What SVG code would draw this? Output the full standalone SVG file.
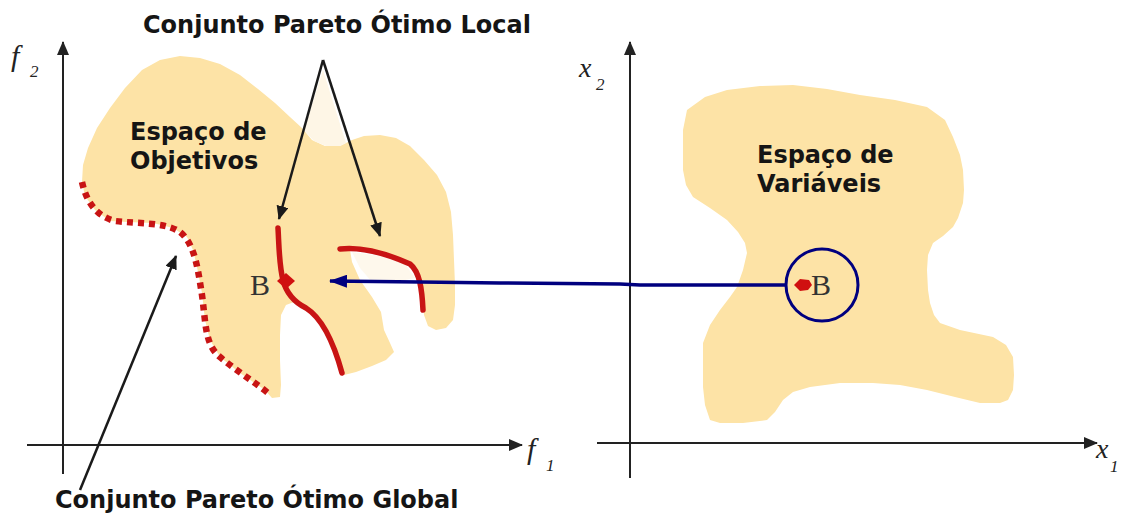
<svg xmlns="http://www.w3.org/2000/svg" width="1125" height="518" viewBox="0 0 1125 518">
<style>
.blob{fill:#FDE3A6;stroke:none}
.lbl{font-family:"DejaVu Sans",sans-serif;font-weight:bold;font-size:24px;fill:#151515}
.ax{stroke:#222;stroke-width:2;fill:none}
.var{font-family:"Liberation Serif",serif;font-style:italic;fill:#222}
.blk{stroke:#1a1a1a;stroke-width:2.5;fill:none}
.red{stroke:#C81414;stroke-width:5.5;fill:none;stroke-linecap:round;stroke-linejoin:round}
.B{font-family:"Liberation Serif",serif;font-size:30px;fill:#333}
</style>
<defs>
<marker id="ah" markerUnits="userSpaceOnUse" markerWidth="14" markerHeight="12" refX="13" refY="6" orient="auto"><path d="M0,0 L14,6 L0,12 z" fill="#1a1a1a"/></marker>
<marker id="axh" markerUnits="userSpaceOnUse" markerWidth="14" markerHeight="12" refX="13" refY="6" orient="auto"><path d="M0,0 L14,6 L0,12 z" fill="#222"/></marker>
<marker id="bh" markerUnits="userSpaceOnUse" markerWidth="18" markerHeight="13" refX="17" refY="6.5" orient="auto"><path d="M0,0 L18,6.5 L0,13 z" fill="#00007F"/></marker>
</defs>
<rect width="1125" height="518" fill="#fff"/>

<g id="objective-space">
<polygon class="blob" points="82,182 83,165 88,148 97,128 110,108 125,88 142,70 160,60 180,56 200,58 220,64 240,75 258,89 275,103 290,117 302,128 312,140 325,146 340,146 352,140 364,136 380,135 396,138 410,146 424,160 437,175 446,192 451,212 453,235 454,260 455,285 455,305 453,320 446,328 436,330 428,326 424,315 423,300 420,285 415,270 405,262 385,255 365,250 350,250 352,262 360,280 372,297 381,312 384,330 390,343 394,352 386,360 372,366 356,372 344,375 340,360 333,343 322,325 306,308 294,302 286,305 281,315 280,335 280,360 281,385 280,397 272,398 265,390 240,373 220,357 210,340 205,320 202,293 197,267 193,250 187,237 173,228 153,223 127,222 110,221 95,210 85,196"/>
<polygon fill="#FEF6E6" points="323,70 304,130 314,141 326,146 340,146 346,143"/>
<polygon fill="#FEF8EC" points="352,252 380,256 405,264 415,278 395,282 372,282 360,268"/>
<text class="lbl" x="130" y="140">Espaço de</text>
<text class="lbl" x="130" y="169">Objetivos</text>
</g>

<g id="variable-space">
<polygon class="blob" points="683,130 687,110 705,97 727,90 760,86 793,85 827,89 860,95 895,100 927,107 945,120 953,137 960,155 963,170 964,190 963,203 958,218 953,227 943,236 933,243 928,255 927,270 928,290 930,303 934,315 940,323 960,330 993,337 1006,345 1013,357 1014,375 1013,390 1008,400 1000,403 980,403 955,397 927,390 900,385 873,383 840,383 810,387 793,392 783,400 775,412 767,420 743,423 720,423 710,420 705,405 703,387 703,365 703,343 710,325 720,310 730,297 737,287 743,270 747,253 745,243 738,232 727,220 710,208 693,197 686,185 683,170"/>
<text class="lbl" x="757" y="163">Espaço de</text>
<text class="lbl" x="757" y="192">Variáveis</text>
</g>

<g id="axes-left">
<line class="ax" x1="63" y1="474" x2="63" y2="42" marker-end="url(#axh)"/>
<line class="ax" x1="27" y1="445" x2="522" y2="445" marker-end="url(#axh)"/>
<text class="var" x="11" y="66" font-size="30">f</text>
<text class="var" x="30" y="77" font-size="17">2</text>
<text class="var" x="527" y="459" font-size="30">f</text>
<text class="var" x="546" y="471" font-size="17">1</text>
</g>

<g id="axes-right">
<line class="ax" x1="630" y1="478" x2="630" y2="42" marker-end="url(#axh)"/>
<line class="ax" x1="597" y1="443" x2="1097" y2="443" marker-end="url(#axh)"/>
<text class="var" x="579" y="77" font-size="28">x</text>
<text class="var" x="596" y="90" font-size="17">2</text>
<text class="var" x="1096" y="458" font-size="28">x</text>
<text class="var" x="1110" y="472" font-size="17">1</text>
</g>

<g id="pareto-global">
<path d="M82,182 C86,200 95,216 115,221 C140,224 165,222 180,232 C195,244 198,270 202,295 C206,325 205,345 220,357 C235,370 252,380 268,393" fill="none" stroke="#C81414" stroke-width="6.5" stroke-dasharray="6 5"/>
</g>

<g id="pareto-local">
<path class="red" d="M278,228 C279,245 279,265 283,280 C286,292 294,302 306,308 C322,318 333,340 342,373"/>
<path class="red" d="M340,249 C365,246 392,256 410,264 C420,272 422,290 423,310"/>
</g>

<g id="point-B-left">
<path d="M277,281 L286,273 L295,281 L286,289 z" fill="#D01010"/>
<text class="B" x="250" y="295">B</text>
</g>

<g id="point-B-right">
<circle cx="822" cy="285" r="36" fill="none" stroke="#00007F" stroke-width="3"/>
<path d="M794,285 L800,279 L809,280 L812,285 L808,290 L800,291 z" fill="#D01010"/>
<text class="B" x="811" y="295">B</text>
</g>

<g id="connectors">
<line class="blk" x1="323" y1="60" x2="279" y2="219" marker-end="url(#ah)"/>
<line class="blk" x1="323" y1="60" x2="380" y2="236" marker-end="url(#ah)"/>
<line class="blk" x1="80" y1="490" x2="176" y2="256" marker-end="url(#ah)"/>
<path d="M785,285 L640,285 L620,284 L500,283 L420,282 L330,281" fill="none" stroke="#00007F" stroke-width="3.5" marker-end="url(#bh)"/>
</g>

<g id="labels">
<text class="lbl" x="143" y="33">Conjunto Pareto Ótimo Local</text>
<text class="lbl" x="55" y="508">Conjunto Pareto Ótimo Global</text>
</g>
</svg>
